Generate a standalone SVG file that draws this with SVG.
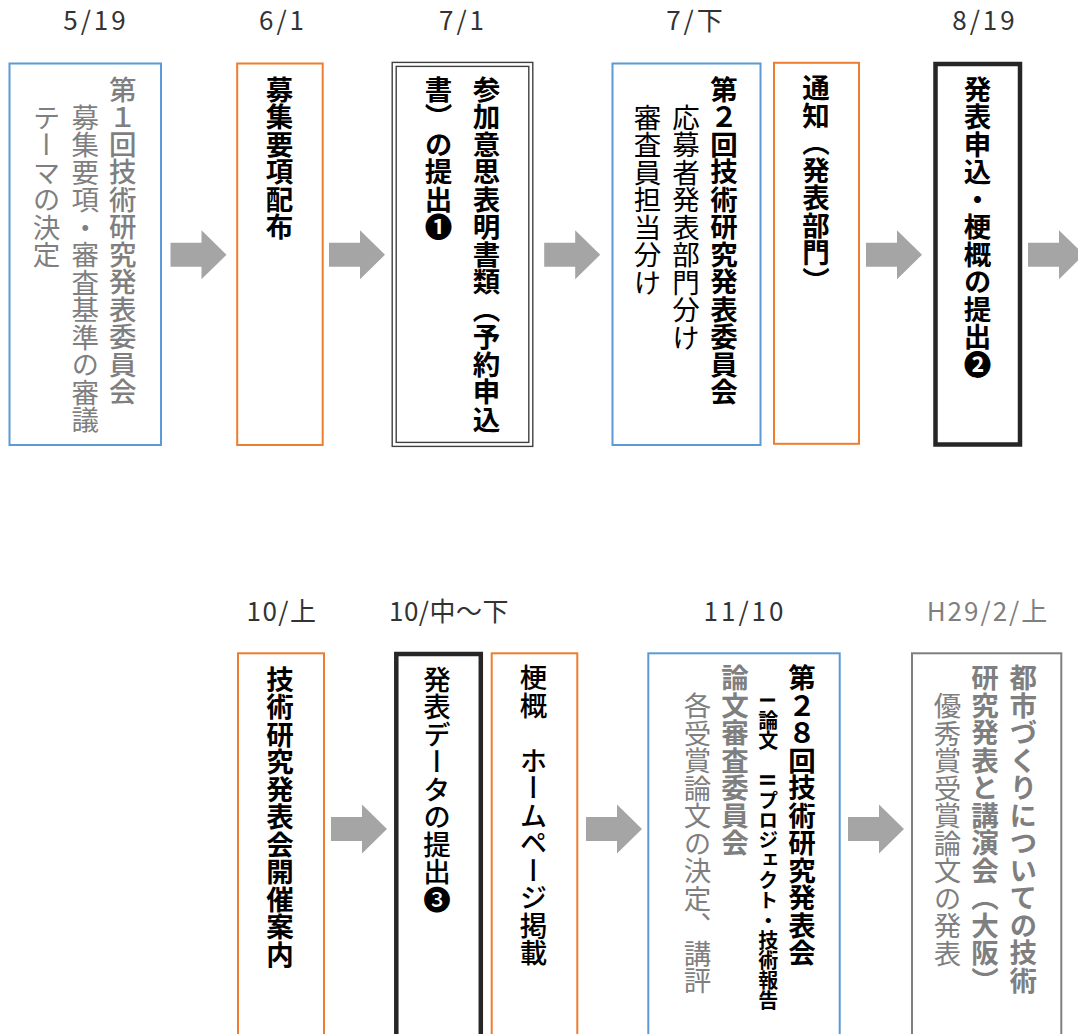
<svg xmlns="http://www.w3.org/2000/svg" xmlns:xlink="http://www.w3.org/1999/xlink" width="1078" height="1034" viewBox="0 0 1078 1034">
<style>
.bg{fill:#fff}
.box{fill:#fff;stroke-width:2}
.blue{stroke:#5B9BD5}
.orange{stroke:#ED7D31}
.grayb{stroke:#7F7F7F}
.thick{fill:#fff;stroke:#262626;stroke-width:4.5}
.dbl{fill:none;stroke:#404040;stroke-width:1.4}
.v{font-family:"Noto Sans CJK JP","Noto Sans",sans-serif;writing-mode:vertical-rl;font-size:27.5px}
.sm{font-size:20px}
.b{font-weight:700}
.m{font-weight:500}
.k{fill:#000}
.g{fill:#7F7F7F}
.lbl{font-family:"Noto Sans CJK JP","Noto Sans",sans-serif;font-size:26px;text-anchor:middle;fill:#333;letter-spacing:3px}
.lblg{fill:#7F7F7F}
.arr{fill:#A5A5A5}
</style>
<defs>
<polygon id="arrow" points="0,-12 31,-12 31,-24.5 56,0 31,24.5 31,12 0,12"/>
</defs>
<rect class="bg" x="0" y="0" width="1078" height="1034"/>

<g id="labels">
<text class="lbl" x="96" y="30">5/19</text>
<text class="lbl" x="283" y="30">6/1</text>
<text class="lbl" x="463" y="30">7/1</text>
<text class="lbl" x="696" y="30">7/下</text>
<text class="lbl" x="985" y="30">8/19</text>
<text class="lbl" x="282" y="621" style="letter-spacing:1.5px">10/上</text>
<text class="lbl" x="449" y="621" style="letter-spacing:0.5px">10/中～下</text>
<text class="lbl" x="745" y="621">11/10</text>
<text class="lbl lblg" x="988" y="621" style="letter-spacing:2px">H29/2/上</text>
</g>

<g id="node1">
<rect class="box blue" x="9.5" y="63.5" width="151.5" height="381.5"/>
<text class="v m g" x="122.8" y="75.5">第１回技術研究発表委員会</text>
<text class="v g" x="85.2" y="103.5">募集要項・審査基準の審議</text>
<text class="v g" x="46.5" y="103.5">テーマの決定</text>
</g>

<g id="node2">
<rect class="box orange" x="237.2" y="63.5" width="85.5" height="381.5"/>
<text class="v b k" x="279.5" y="75.5">募集要項配布</text>
</g>

<g id="node3">
<rect class="bg" x="392" y="62.5" width="140.5" height="384"/>
<rect class="dbl" x="392.2" y="62.4" width="140.6" height="384"/>
<rect class="dbl" x="396.2" y="66.4" width="132.6" height="376"/>
<text class="v b k" x="486.4" y="75.5">参加意思表明書類（予約申込</text>
<text class="v b k" x="438.5" y="75.5">書）の提出❶</text>
</g>

<g id="node4">
<rect class="box blue" x="612.5" y="63.5" width="148" height="381.5"/>
<text class="v b k" x="724" y="75.5">第２回技術研究発表委員会</text>
<text class="v k" x="686" y="103.5">応募者発表部門分け</text>
<text class="v k" x="647.6" y="103.5">審査員担当分け</text>
</g>

<g id="node5">
<rect class="box orange" x="774" y="62.8" width="85" height="381"/>
<text class="v b k" x="816" y="74">通知（発表部門）</text>
</g>

<g id="node6">
<rect class="thick" x="935.5" y="64" width="84.5" height="380.5"/>
<text class="v b k" x="977.5" y="75.5">発表申込・梗概の提出❷</text>
</g>

<g id="node7">
<rect class="box orange" x="238" y="653.3" width="86" height="400"/>
<text class="v b k" x="280" y="665.5">技術研究発表会開催案内</text>
</g>

<g id="node8">
<rect class="thick" x="396.3" y="654" width="84.5" height="400"/>
<text class="v m k" x="437" y="665.5">発表データの提出❸</text>
</g>

<g id="node9">
<rect class="box orange" x="491.7" y="653.3" width="85.6" height="400"/>
<text class="v m k" x="533.5" y="664">梗概　ホームページ掲載</text>
</g>

<g id="node10">
<rect class="box blue" x="648.3" y="653.3" width="191.4" height="400"/>
<text class="v b k" x="802" y="664">第２８回技術研究発表会</text>
<text class="v sm b k" x="768.3" y="690"><tspan style="text-orientation:sideways">Ⅰ</tspan>論文　<tspan style="text-orientation:sideways">Ⅱ</tspan>プロジェクト・技術報告</text>
<text class="v b g" x="735" y="664">論文審査委員会</text>
<text class="v g" x="697.5" y="692">各受賞論文の決定、講評</text>
</g>

<g id="node11">
<rect class="box grayb" x="912" y="653.3" width="149.3" height="400"/>
<text class="v b g" x="1023.3" y="664">都市づくりについての技術</text>
<text class="v b g" x="985" y="664">研究発表と講演会（大阪）</text>
<text class="v g" x="947.5" y="692">優秀賞受賞論文の発表</text>
</g>

<g id="connectors" class="arr">
<use xlink:href="#arrow" x="170.5" y="254.7"/>
<use xlink:href="#arrow" x="329" y="254.7"/>
<use xlink:href="#arrow" x="544.2" y="254.7"/>
<use xlink:href="#arrow" x="866" y="254.7"/>
<use xlink:href="#arrow" x="1028" y="254.7"/>
<use xlink:href="#arrow" x="331" y="829"/>
<use xlink:href="#arrow" x="586" y="829"/>
<use xlink:href="#arrow" x="848" y="829"/>
</g>
</svg>
